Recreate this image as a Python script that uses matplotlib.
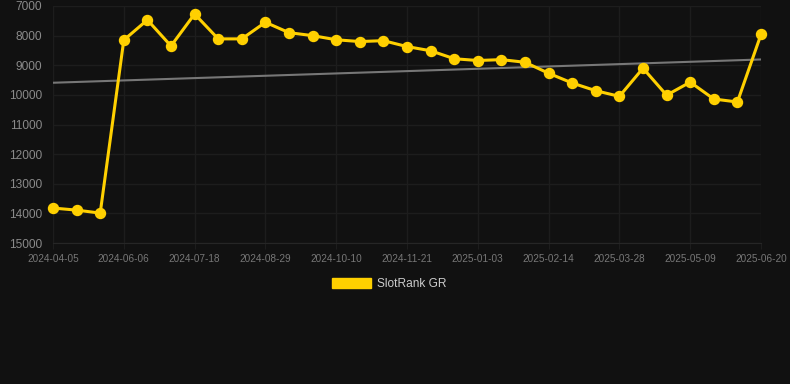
import numpy as np
import matplotlib
matplotlib.use('Agg')
import matplotlib.pyplot as plt
from matplotlib.patches import Patch

# dates of the samples (only every third one is shown on the axis)
dates = ['2024-04-05', '2024-04-19', '2024-05-03', '2024-06-06', '2024-06-20',
         '2024-07-04', '2024-07-18', '2024-08-01', '2024-08-15', '2024-08-29',
         '2024-09-12', '2024-09-26', '2024-10-10', '2024-10-24', '2024-11-07',
         '2024-11-21', '2024-12-05', '2024-12-19', '2025-01-03', '2025-01-17',
         '2025-01-31', '2025-02-14', '2025-02-28', '2025-03-14', '2025-03-28',
         '2025-04-11', '2025-04-25', '2025-05-09', '2025-05-23', '2025-06-06',
         '2025-06-20']
rank = [13820, 13890, 13990, 8150, 7470, 8350, 7270, 8110, 8110, 7550,
        7900, 8000, 8140, 8200, 8170, 8370, 8510, 8780, 8840, 8810,
        8900, 9270, 9600, 9860, 10050, 9100, 10010, 9570, 10140, 10240,
        7960]
y_ticks = [7000, 8000, 9000, 10000, 11000, 12000, 13000, 14000, 15000]

bg = '#111111'
gold = '#ffd000'

def main():
    fig = plt.figure(figsize=(7.9, 3.84), dpi=100, facecolor=bg)
    ax = fig.add_axes([53 / 790, 1 - 243 / 384, 708 / 790, 237 / 384])
    ax.set_facecolor(bg)

    x = np.arange(len(rank))

    # linear trend
    k, b = np.polyfit(x, rank, 1)
    ax.plot(x, k * x + b, color='#777777', lw=1.5, zorder=2)

    ax.plot(x, rank, color=gold, lw=2.2, marker='o', markersize=7.2,
            zorder=3, clip_on=False)

    ax.set_xlim(0, len(rank) - 1)
    ax.set_ylim(15000, 7000)
    ax.set_yticks(y_ticks)
    ax.set_yticklabels([str(v) for v in y_ticks])
    ax.set_xticks(x[::3])
    ax.set_xticklabels(dates[::3])

    ax.grid(True, color='#1d1d1d', lw=1)
    ax.set_axisbelow(True)
    for s in ax.spines.values():
        s.set_visible(False)
    ax.spines['bottom'].set_visible(True)
    ax.spines['bottom'].set_color('#262626')
    ax.tick_params(axis='y', length=0, pad=8, labelsize=8.6, labelcolor='#8a8a8a')
    ax.tick_params(axis='x', length=4, color='#1d1d1d', pad=4, labelsize=7.2,
                   labelcolor='#777777')
    for lab in ax.get_xticklabels() + ax.get_yticklabels():
        lab.set_family('Liberation Sans')

    handle = Patch(facecolor=gold, edgecolor=gold)
    fig.legend([handle], ['SlotRank GR'], loc='center', bbox_to_anchor=(389 / 790, 1 - 284 / 384),
               frameon=False, handlelength=3.3, handleheight=1.0, handletextpad=0.5,
               prop={'family': 'Liberation Sans', 'size': 8.6}, labelcolor='#cccccc')

    fig.savefig('out.png', dpi=100, facecolor=bg)

if __name__ == '__main__':
    main()
